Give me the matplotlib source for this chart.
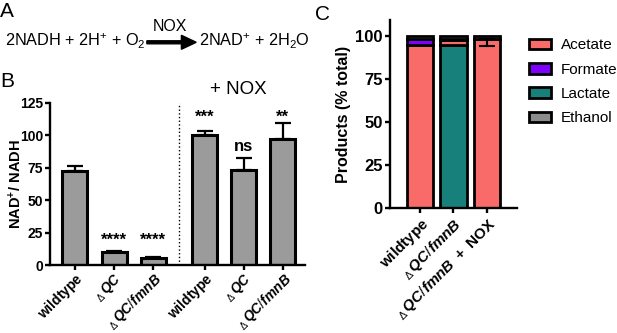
import numpy as np
import matplotlib.pyplot as plt
from matplotlib.patches import Patch, FancyArrow

plt.rcParams['font.family'] = ['Liberation Sans', 'DejaVu Sans']
plt.rcParams['mathtext.fontset'] = 'custom'
plt.rcParams['mathtext.rm'] = 'Liberation Sans'
plt.rcParams['mathtext.it'] = 'Liberation Sans:italic:bold'
plt.rcParams['mathtext.bf'] = 'Liberation Sans:bold'

# panel B: NAD+/NADH ratio
strains_b = ['wildtype', 'dQC', 'dQC/fmnB']
ratio_ctrl = [72, 10, 5.5]
err_ctrl = [4.5, 1.0, 1.0]
ratio_nox = [100, 73, 97]
err_nox = [3, 9, 12.5]
sig_ctrl = ['', '****', '****']
sig_nox = ['***', 'ns', '**']
sig_height_ctrl = [0, 16, 16]
sig_height_nox = [110, 88, 110]

# panel C: fermentation products (% total)
strains_c = ['wildtype', 'dQC/fmnB', 'dQC/fmnB + NOX']
lactate = [0, 94.5, 0]
acetate = [95, 3, 98]
formate = [3, 0.5, 0]
ethanol = [2, 2, 2]
acetate_err = [0, 0, 4]

colors = {'Acetate': '#F96B68', 'Formate': '#8000FF', 'Lactate': '#17807B', 'Ethanol': '#8C8C8C'}


def tick_label(name):
    if name == 'wildtype':
        return r'$\mathbf{wildtype}$'
    rest = name[1:]
    if rest.endswith(' + NOX'):
        core = rest[:-6]
        return r'$_{\mathregular{\Delta}}\,\mathit{' + core + r'}\mathbf{\ +\ NOX}$'
    return r'$_{\mathregular{\Delta}}\,\mathit{' + rest + '}$'


def style_axis(ax, size):
    for s in ['top', 'right']:
        ax.spines[s].set_visible(False)
    for s in ['left', 'bottom']:
        ax.spines[s].set_linewidth(1.7)
    ax.tick_params(width=1.7, length=3.5, pad=1.5, labelsize=size)
    for lab in ax.get_yticklabels():
        lab.set_fontweight('bold')


fig = plt.figure(figsize=(6.17, 3.33), dpi=100)

# ---- panel A: reaction ----
fig.text(0.0, 0.995, 'A', fontsize=15, va='top', ha='left')
fig.text(0.008, 0.875, r'2NADH + 2H$^{+}$ + O$_{2}$', fontsize=11.7, va='center', ha='left')
fig.text(0.323, 0.875, r'2NAD$^{+}$ + 2H$_{2}$O', fontsize=11.7, va='center', ha='left')
fig.text(0.276, 0.897, 'NOX', fontsize=11.5, va='bottom', ha='center')
fig.patches.append(FancyArrow(
    0.238, 0.873, 0.080, 0, width=0.009, head_width=0.042, head_length=0.024,
    length_includes_head=True, color='black', transform=fig.transFigure, figure=fig))

# ---- panel B ----
axb = fig.add_axes([0.081, 0.204, 0.413, 0.488])
x_ctrl = np.arange(3)
x_nox = np.arange(3) + 3.32
xs = np.concatenate([x_ctrl, x_nox])
vals = ratio_ctrl + ratio_nox
errs = err_ctrl + err_nox
axb.bar(xs, vals, width=0.64, color='#9B9B9B', edgecolor='black', linewidth=2.2, zorder=2)
axb.errorbar(xs, vals, yerr=[np.zeros(6), errs], fmt='none', ecolor='black',
             elinewidth=1.6, capsize=6, capthick=1.6, zorder=1)
for x, s, h in zip(xs, sig_ctrl + sig_nox, sig_height_ctrl + sig_height_nox):
    if s:
        axb.text(x, h, s, ha='center', va='baseline', fontsize=12, fontweight='bold')
axb.axvline(2.66, color='black', linestyle=':', linewidth=1)
axb.set_xlim(-0.64, 5.88)
axb.set_ylim(0, 125)
axb.set_yticks([0, 25, 50, 75, 100, 125])
axb.set_xticks(xs)
axb.set_xticklabels([tick_label(n) for n in strains_b * 2], rotation=45, ha='right',
                    rotation_mode='anchor')
style_axis(axb, 10)
axb.tick_params(axis='x', labelsize=10, pad=0)
axb.set_ylabel(r'$\mathbf{NAD^{+}/\ NADH}$', fontsize=10.5)
axb.yaxis.set_label_coords(-0.102, 0.5)
axb.text(0.74, 1.03, '+ NOX', transform=axb.transAxes, fontsize=13.5, ha='center', va='bottom')
fig.text(0.0, 0.785, 'B', fontsize=15, va='top', ha='left')

# ---- panel C ----
axc = fig.add_axes([0.632, 0.375, 0.206, 0.565])
xc = np.arange(3)
bottom = np.zeros(3)
for name, v in [('Lactate', lactate), ('Acetate', acetate), ('Formate', formate), ('Ethanol', ethanol)]:
    v = np.array(v, dtype=float)
    axc.bar(xc, v, bottom=bottom, width=0.78, color=colors[name], edgecolor='black',
            linewidth=2.0, zorder=2)
    if name == 'Acetate':
        tops = bottom + v
        for x, t, e in zip(xc, tops, acetate_err):
            if e:
                axc.errorbar([x], [t], yerr=[[e], [0]], fmt='none', ecolor='black',
                             elinewidth=1.5, capsize=6, capthick=1.5, zorder=3)
    bottom = bottom + v
axc.set_xlim(-0.9, 2.9)
axc.set_ylim(0, 109.3)
axc.set_yticks([0, 25, 50, 75, 100])
axc.set_xticks(xc)
axc.set_xticklabels([tick_label(n) for n in strains_c], rotation=45, ha='right',
                    rotation_mode='anchor')
style_axis(axc, 12)
axc.tick_params(axis='x', labelsize=11)
axc.set_ylabel('Products (% total)', fontsize=11.5, fontweight='bold', labelpad=3)
handles = [Patch(facecolor=colors[n], edgecolor='black', linewidth=2.0, label=n)
           for n in ['Acetate', 'Formate', 'Lactate', 'Ethanol']]
fig.legend(handles=handles, loc='upper left', bbox_to_anchor=(0.857, 0.885), frameon=False,
           fontsize=11, handlelength=1.45, handleheight=0.7, labelspacing=0.68,
           handletextpad=0.65, borderaxespad=0, borderpad=0)
fig.text(0.51, 0.985, 'C', fontsize=15, va='top', ha='left')

fig.savefig('out.png', dpi=100)
